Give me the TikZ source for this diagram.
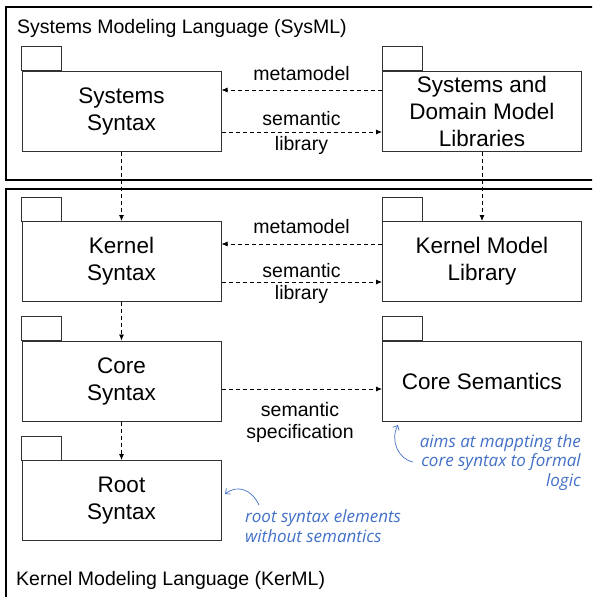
\documentclass[tikz,border=0pt]{standalone}
\usepackage{fontspec}
\setmainfont{Liberation Sans}
\newfontfamily\notefont{Open Sans}
\usetikzlibrary{arrows.meta}
\definecolor{noteblue}{RGB}{66,112,200}
\definecolor{boxline}{RGB}{50,50,50}
\begin{document}
\begin{tikzpicture}[x=1pt,y=-1pt,
  frame/.style={draw=black, line width=1.1pt},
  pkg/.style={draw=boxline, line width=1pt, minimum width=199pt, minimum height=80pt,
    align=center, inner sep=0pt, font=\fontsize{22.5}{27}\selectfont},
  tabline/.style={draw=boxline, line width=1pt},
  dep/.style={draw=black, line width=0.8pt, dash pattern=on 4pt off 3pt,
    -{Latex[length=6pt,width=5pt]}},
  lbl/.style={anchor=base, inner sep=0pt, font=\fontsize{19.5}{23}\selectfont},
  ttl/.style={anchor=base west, inner sep=0pt, font=\fontsize{19.5}{23}\selectfont},
  note/.style={inner sep=0pt, text=noteblue, font=\notefont\itshape\fontsize{17}{19.5}\selectfont},
  notearrow/.style={draw=noteblue, line width=0.7pt, -{Straight Barb[length=4pt,width=7pt]}}
]
\useasboundingbox (0,0) rectangle (592,597);
\clip (0,0) rectangle (592,597);
% frames
\draw[frame] (6,7) rectangle (600,180);
\draw[frame] (6,189) rectangle (600,610);
\node[ttl] (sysml) at (17,33) {Systems Modeling Language (SysML)};
\node[ttl] (kerml) at (16,585) {Kernel Modeling Language (KerML)};
% packages
\node[pkg] (ss) at (121.5,111) {Systems\\Syntax};
\node[pkg] (sdl) at (482,111) {Systems and\\Domain Model\\Libraries};
\node[pkg] (ks) at (121.5,261.5) {Kernel\\Syntax};
\node[pkg] (kml) at (482,261.5) {Kernel Model\\Library};
\node[pkg] (cs) at (121.5,381) {Core\\Syntax};
\node[pkg] (csem) at (482,381) {Core Semantics};
\node[pkg] (rs) at (121.5,500.5) {Root\\Syntax};
\foreach \n in {ss,sdl,ks,kml,cs,csem,rs}
  \draw[tabline] (\n.north west) rectangle ++(40,-24);
% SysML row
\draw[dep] ([yshift=21pt]sdl.west) -- ([yshift=21pt]ss.east);
\node[lbl] (mm1) at (301.5,80) {metamodel};
\draw[dep] ([yshift=-21pt]ss.east) -- ([yshift=-21pt]sdl.west);
\node[lbl] (sl1a) at (301.5,125) {semantic};
\node[lbl] (sl1b) at (301.5,150) {library};
% Kernel row
\draw[dep] ([yshift=17.5pt]kml.west) -- ([yshift=17.5pt]ks.east);
\node[lbl] (mm2) at (301.5,233) {metamodel};
\draw[dep] ([yshift=-20.5pt]ks.east) -- ([yshift=-20.5pt]kml.west);
\node[lbl] (sl2a) at (301.5,277) {semantic};
\node[lbl] (sl2b) at (301.5,299) {library};
% Core row
\draw[dep] ([yshift=-8pt]cs.east) -- ([yshift=-8pt]csem.west);
\node[lbl] (ssa) at (300,416) {semantic};
\node[lbl] (ssb) at (300,438) {specification};
% verticals
\draw[dep] (ss.south) -- (ks.north);
\draw[dep] (sdl.south) -- (kml.north);
\draw[dep] (ks.south) -- (cs.north);
\draw[dep] (cs.south) -- (rs.north);
% notes
\node[note, anchor=base east, align=right] (n1) at (581,486)
  {aims at mappting the\\core syntax to formal\\logic};
\coordinate (n1tail) at (413,462);
\coordinate (n1tip) at (398,425);
\draw[notearrow] (n1tail) .. controls (398,459) and (390,440) .. (n1tip);
\node[note, anchor=base west, align=left] (n2) at (245,542)
  {root syntax elements\\without semantics};
\coordinate (n2tail) at (259,505);
\coordinate (n2tip) at (225,494);
\draw[notearrow] (n2tail) .. controls (252,490) and (238,484) .. (n2tip);
\end{tikzpicture}
\end{document}
